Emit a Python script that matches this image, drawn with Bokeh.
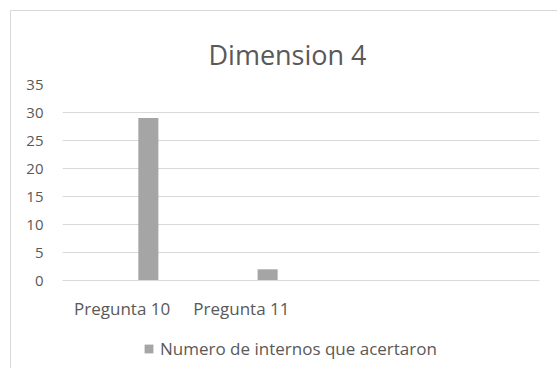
from bokeh.plotting import figure
from bokeh.models import ColumnDataSource, FactorRange, Range1d, Legend, LegendItem, Title, FixedTicker
from bokeh.transform import dodge
from bokeh.embed import file_html
from bokeh.resources import INLINE

title_text = "Dimension 4"
categories = ["Pregunta 10", "Pregunta 11", " ", "  "]
bar_categories = ["Pregunta 10", "Pregunta 11"]
aciertos = [29, 2]
series_name = "Numero de internos que acertaron"
y_ticks = [0, 5, 10, 15, 20, 25, 30, 35]

FONT = "Open Sans"
TXT = "#595959"
GRID = "#d9d9d9"
BAR = "#a5a5a5"

source = ColumnDataSource(data=dict(cat=bar_categories, val=aciertos))

# the frame extends below zero so that axis labels and legend sit inside it
p = figure(
    x_range=FactorRange(factors=categories, range_padding=0),
    y_range=Range1d(-89 / 5.6, 35),
    width=547, height=358,
    output_backend="svg", toolbar_location=None, tools="",
    min_border_left=51, min_border_right=19, min_border_top=73, min_border_bottom=0,
)
p.margin = (10, 0, 0, 10)
p.styles = {"border-top": "1px solid " + GRID, "border-left": "1px solid " + GRID}
p.outline_line_color = None
p.background_fill_color = "white"
p.border_fill_color = "white"

r = p.vbar(x=dodge("cat", 0.22, range=p.x_range), top="val", bottom=0, width=0.168, source=source,
           fill_color=BAR, line_color=None)

p.add_layout(Title(text=title_text, text_font=FONT, text_font_size="27px", text_color=TXT,
                   text_font_style="normal", align="left", offset=146, standoff=23), "above")

p.yaxis.ticker = FixedTicker(ticks=y_ticks)
p.yaxis.axis_line_color = None
p.yaxis.major_tick_line_color = None
p.yaxis.minor_tick_line_color = None
p.yaxis.major_label_standoff = 13
p.yaxis.major_label_text_font = FONT
p.yaxis.major_label_text_font_size = "15px"
p.yaxis.major_label_text_color = TXT

p.xaxis.fixed_location = 0
p.xaxis.axis_line_color = GRID
p.xaxis.major_tick_line_color = None
p.xaxis.minor_tick_line_color = None
p.xaxis.major_label_standoff = 10
p.xaxis.major_label_text_font = FONT
p.xaxis.major_label_text_font_size = "17px"
p.xaxis.major_label_text_color = TXT

p.xgrid.grid_line_color = None
p.ygrid.grid_line_color = GRID
p.ygrid.grid_line_width = 1

legend = Legend(items=[LegendItem(label=series_name, renderers=[r])],
                location=(81, 9), orientation="horizontal",
                glyph_width=11, glyph_height=11, label_standoff=6, padding=0, margin=0,
                border_line_color=None, background_fill_alpha=0,
                label_text_font=FONT, label_text_font_size="17px", label_text_color=TXT)
p.add_layout(legend, "center")

open("out.html", "w").write(file_html(p, INLINE))
